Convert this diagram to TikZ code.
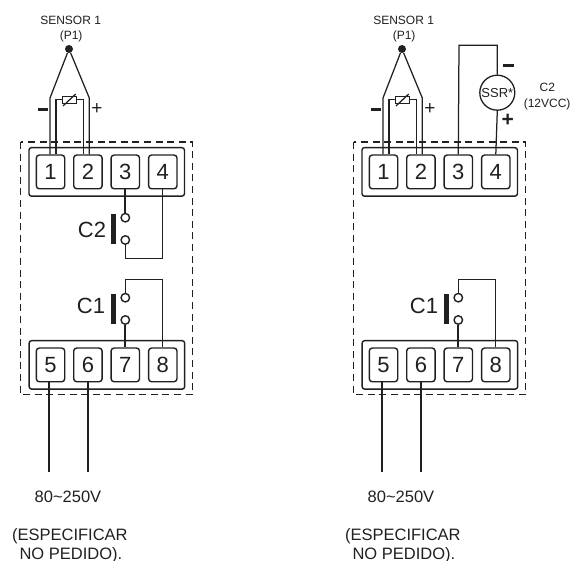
\documentclass[tikz,border=0pt]{standalone}
\usepackage{fontspec}
\setmainfont{Liberation Sans}
\definecolor{ink}{HTML}{231F20}
\tikzset{
  wire/.style={draw=ink,line width=1.25pt,line join=miter},
  heavy/.style={draw=ink,line width=1.7pt},
  block/.style={draw=ink,line width=1.4pt,rounded corners=2.5pt,minimum width=155.5pt,minimum height=48.5pt,inner sep=0pt},
  term/.style={draw=ink,line width=1.4pt,rounded corners=3pt,minimum width=28.4pt,minimum height=33.7pt,inner sep=0pt,text=ink,font=\fontsize{22}{22}\selectfont},
  contact/.style={circle,draw=ink,fill=white,line width=1.4pt,minimum size=8.5pt,inner sep=0pt},
  cbar/.style={fill=ink,minimum width=5pt,minimum height=29.7pt,inner sep=0pt},
  big/.style={text=ink,inner sep=0pt,font=\fontsize{22}{22}\selectfont},
  small/.style={text=ink,inner sep=0pt,font=\fontsize{12}{12}\selectfont},
  note/.style={text=ink,inner sep=0pt,font=\fontsize{16.5}{16.5}\selectfont},
  res/.style={draw=ink,fill=white,line width=1.2pt,minimum width=14.4pt,minimum height=7pt,inner sep=0pt},
  dashbox/.style={draw=ink,line width=1.25pt,dash pattern=on 7pt off 4.6pt},
  minusbar/.style={fill=ink,minimum width=10.5pt,minimum height=2.8pt,inner sep=0pt},
}
\newcommand{\panelbase}{%
  \draw[dashbox] (20.7,142) rectangle (192.7,394.7);
  \node[block] (topb) at (106.7,171.9) {};
  \node[block] (botb) at (106.9,364.9) {};
  \node[term] (t1) at (50.5,171.9) {1};
  \node[term] (t2) at (87.9,171.9) {2};
  \node[term] (t3) at (125.3,171.9) {3};
  \node[term] (t4) at (162.8,171.9) {4};
  \node[term] (t5) at (50.5,364.9) {5};
  \node[term] (t6) at (87.9,364.9) {6};
  \node[term] (t7) at (125.3,364.9) {7};
  \node[term] (t8) at (162.8,364.9) {8};
  % sensor
  \node[circle,fill=ink,minimum size=8pt,inner sep=0pt] (dot) at (69,49) {};
  \node[small] (s1) at (70.6,20) {SENSOR 1};
  \node[small] (p1) at (71.1,36) {(P1)};
  \node[res] (r) at (69.5,99.8) {};
  \coordinate (sl) at (50,98);
  \coordinate (sr) at (89.3,98);
  \coordinate (il) at (56,99.8);
  \coordinate (ir) at (83.3,99.8);
  \draw[wire] (dot) -- (sl) -- (sl |- t1.north);
  \draw[wire] (dot) -- (sr) -- (sr |- t2.north);
  \draw[wire] (r.west) -- (il) -- (il |- t1.north);
  \draw[wire] (r.east) -- (ir) -- (ir |- t2.north);
  \coordinate (sa) at (63,106);
  \coordinate (sb) at (75.7,94);
  \draw[wire] (sa) -- (sb);
  \node[minusbar] (minus) at (43.2,109.3) {};
  \node[font=\fontsize{19}{19}\selectfont,text=ink,inner sep=0pt] (plus) at (97,109) {+};
  % C1
  \node[contact] (c1a) at (125.3,297.7) {};
  \node[contact] (c1b) at (125.3,320) {};
  \node[cbar] (b1) at (113.5,308.9) {};
  \node[big] (lc1) at (91,306) {C1};
  \coordinate (c1t) at (125.3,279.3);
  \draw[wire] (c1a) -- (c1t) -- (t8.north |- c1t) -- (t8.north);
  \draw[heavy] (c1b) -- (t7.north);
  % feed wires
  \coordinate (f5) at (49,472);
  \coordinate (f6) at (88,472);
  \draw[heavy] (f5 |- t5.south) -- (f5);
  \draw[heavy] (f6 |- t6.south) -- (f6);
  \node[note] (v) at (68,497) {80\char"7E 250V};
  \node[note,anchor=east] (e1) at (127.8,535.8) {(ESPECIFICAR};
  \node[note,anchor=east] (e2) at (122.4,554.8) {NO PEDIDO).};
}
\begin{document}
\begin{tikzpicture}[x=1pt,y=-1pt]
  \useasboundingbox (0,0) rectangle (571,561);
  \fill[white] (0,0) rectangle (571,561);
  \begin{scope}[name prefix=L-]
    \panelbase
    \node[contact] (c2a) at (125.3,217.7) {};
    \node[contact] (c2b) at (125.3,240) {};
    \node[cbar] (b2) at (113.5,228.9) {};
    \node[big] (lc2) at (92,230) {C2};
    \coordinate (c2d) at (125.3,258.3);
    \draw[heavy] (t3.south) -- (c2a);
    \draw[wire] (c2b) -- (c2d) -- (t4.south |- c2d) -- (t4.south);
  \end{scope}
  \begin{scope}[shift={(333,0)},name prefix=R-]
    \panelbase
    \node[circle,draw=ink,fill=white,line width=1.3pt,minimum size=35pt,inner sep=0pt,text=ink,font=\fontsize{13}{13}\selectfont] (ssr) at (164.3,92.7) {SSR*};
    \coordinate (top3) at (126,45.3);
    \draw[wire] (t3.north) -- (top3) -- (ssr.north |- top3) -- (ssr.north);
    \draw[wire] (ssr.south) -- (t4.north);
    \node[minusbar] (m2) at (175.7,65.6) {};
    \node[font=\bfseries\fontsize{21}{21}\selectfont,text=ink,inner sep=0pt] (p2) at (174.7,120.7) {+};
    \node[small] (c2) at (214.4,87.3) {C2};
    \node[small] (vcc) at (214.1,104) {(12VCC)};
  \end{scope}
\end{tikzpicture}
\end{document}
